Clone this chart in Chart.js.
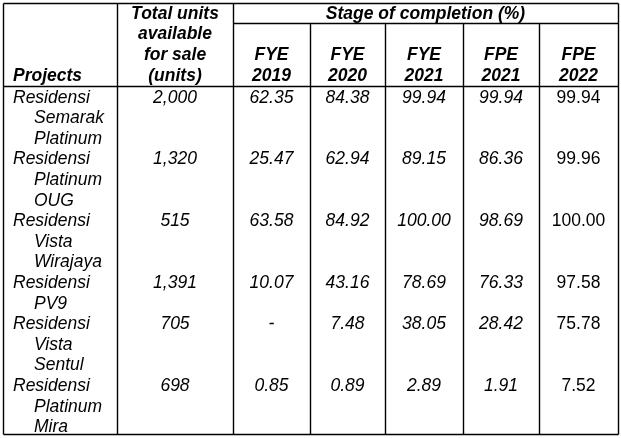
<!DOCTYPE html>
<html><head><meta charset="utf-8">
<script src="https://cdn.jsdelivr.net/npm/chart.js@4/dist/chart.umd.min.js"></script>
<style>html,body{margin:0;padding:0;background:#fff}canvas{display:block}</style>
</head><body>
<canvas id="c" width="621" height="438"></canvas>
<script>
// ---- data ----
const projects = ["Residensi Semarak Platinum","Residensi Platinum OUG","Residensi Vista Wirajaya","Residensi PV9","Residensi Vista Sentul","Residensi Platinum Mira"];
const totalUnits = [2000,1320,515,1391,705,698];
const fye2019 = [62.35,25.47,63.58,10.07,null,0.85];
const fye2020 = [84.38,62.94,84.92,43.16,7.48,0.89];
const fye2021 = [99.94,89.15,100.00,78.69,38.05,2.89];
const fpe2021 = [99.94,86.36,98.69,76.33,28.42,1.91];
const fpe2022 = [99.94,99.96,100.00,97.58,75.78,7.52];
const periodLabels = ["FYE 2019","FYE 2020","FYE 2021","FPE 2021","FPE 2022"];
const projectsHeader = "Projects";
const unitsHeader = ["Total units","available","for sale","(units)"];
const stageHeader = "Stage of completion (%)";

// ---- layout ----
const colWidths = [114,116,77,75,78,76,79];
const edges = [0]; colWidths.forEach(w=>edges.push(edges[edges.length-1]+w));
const center = c => (edges[c]+edges[c+1])/2;
const HEAD = 4.07;            // first body text line (in line units)
const STAGE_RULE = 0.2, HEAD_RULE = 3.27;
const FONT = '"Liberation Sans", Arial, sans-serif';
const fBI = 'italic bold 17.5px '+FONT, fI = 'italic 17.5px '+FONT, fR = '17.5px '+FONT;

const nameLines = projects.map(p=>p.split(' '));
const rowStart = []; let acc = 0;
nameLines.forEach(l=>{rowStart.push(acc); acc += l.length;});

const fmt2 = v => v==null ? '-' : v.toFixed(2);
const datasets = [];
function ds(points, font, align){ datasets.push({data:points, font, align, pointRadius:0, showLine:false}); }

// header
ds([{x:10, y:3, t:projectsHeader}], fBI, 'left');
ds(unitsHeader.map((t,i)=>({x:center(1), y:i, t})), fBI, 'center');
ds([{x:(edges[2]+edges[7])/2, y:0, t:stageHeader}], fBI, 'center');
periodLabels.forEach((lab,i)=>{
  ds(lab.split(' ').map((t,k)=>({x:center(2+i), y:2+k, t})), fBI, 'center');
});
// project names
const firstLines=[], contLines=[];
nameLines.forEach((ls,r)=>ls.forEach((t,k)=>{
  (k===0?firstLines:contLines).push({x: k===0?10:31, y:HEAD+rowStart[r]+k, t});
}));
ds(firstLines, fI, 'left');
ds(contLines, fI, 'left');
ds(totalUnits.map((v,r)=>({x:center(1), y:HEAD+rowStart[r], t:v.toLocaleString('en-US')})), fI, 'center');
[fye2019,fye2020,fye2021,fpe2021].forEach((arr,i)=>{
  ds(arr.map((v,r)=>({x:center(2+i), y:HEAD+rowStart[r], t:fmt2(v)})), fI, 'center');
});
ds(fpe2022.map((v,r)=>({x:center(6), y:HEAD+rowStart[r], t:fmt2(v)})), fR, 'center');

const rules = {
  id:'rules',
  beforeDatasetsDraw(chart){
    const {ctx, scales:{x,y}} = chart;
    const X = v=>Math.round(x.getPixelForValue(v))+0.5, Y = v=>Math.round(y.getPixelForValue(v))+0.5;
    const top = y.min, bot = y.max;
    ctx.save(); ctx.strokeStyle='#000'; ctx.lineWidth=1.4;
    const line=(x1,y1,x2,y2)=>{ctx.beginPath();ctx.moveTo(x1,y1);ctx.lineTo(x2,y2);ctx.stroke();};
    [top, HEAD_RULE, bot].forEach(v=>line(X(edges[0]),Y(v),X(edges[7]),Y(v)));
    line(X(edges[2]),Y(STAGE_RULE),X(edges[7]),Y(STAGE_RULE));
    [0,1,2,7].forEach(c=>line(X(edges[c]),Y(top),X(edges[c]),Y(bot)));
    [3,4,5,6].forEach(c=>line(X(edges[c]),Y(STAGE_RULE),X(edges[c]),Y(bot)));
    ctx.restore();
  }
};
const texts = {
  id:'texts',
  afterDatasetsDraw(chart){
    const ctx = chart.ctx; ctx.save(); ctx.fillStyle='#000'; ctx.textBaseline='alphabetic';
    chart.data.datasets.forEach((d,i)=>{
      const meta = chart.getDatasetMeta(i);
      ctx.font = d.font; ctx.textAlign = d.align;
      meta.data.forEach((el,k)=>ctx.fillText(d.data[k].t, el.x, el.y));
    });
    ctx.restore();
  }
};

new Chart(document.getElementById('c'), {
  type:'scatter',
  data:{datasets},
  options:{
    responsive:false, animation:false, events:[],
    layout:{padding:{left:3,top:3,right:3,bottom:4}},
    scales:{
      x:{type:'linear', display:false, min:0, max:edges[7]},
      y:{type:'linear', display:false, min:-0.767, max:20.155, reverse:true}
    },
    plugins:{legend:{display:false}, tooltip:{enabled:false}}
  },
  plugins:[rules, texts]
});
</script>
</body></html>
